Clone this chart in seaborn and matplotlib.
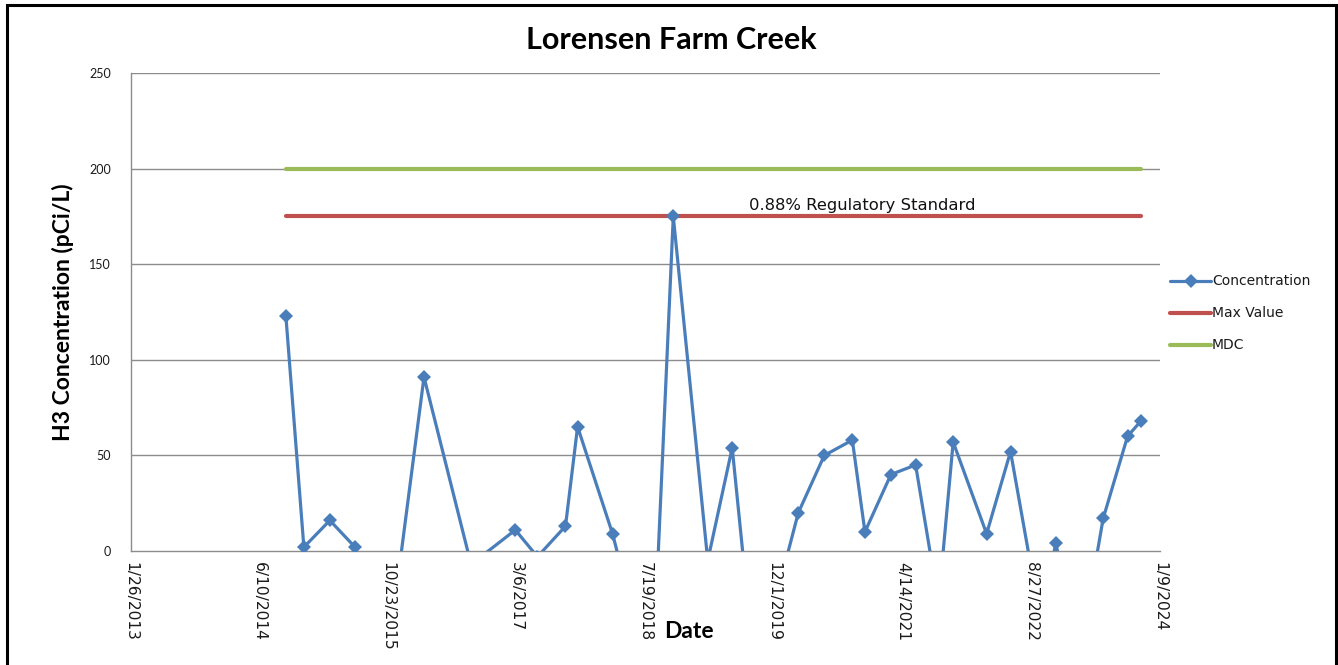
import matplotlib
matplotlib.use("Agg")
import matplotlib.pyplot as plt
import matplotlib.patches as mpatches
import pandas as pd
import seaborn as sns

# Sample dates and measured H3 concentrations (pCi/L)
sample_dates = ["2014-09-20", "2014-11-29", "2015-03-10", "2015-06-16", "2015-10-09",
                "2016-03-10", "2016-09-09", "2017-02-28", "2017-05-25", "2017-09-11",
                "2017-10-28", "2018-03-13", "2018-08-14", "2018-11-04", "2019-03-18",
                "2019-06-21", "2019-09-19", "2020-03-04", "2020-06-13", "2020-09-30",
                "2020-11-18", "2021-02-27", "2021-06-03", "2021-08-31", "2021-10-27",
                "2022-03-06", "2022-06-07", "2022-09-30", "2022-11-30", "2023-03-03",
                "2023-06-02", "2023-09-05", "2023-10-27"]
concentration = [123, 2, 16, 2, -68, 91, -7, 11, -3, 13,
                 65, 9, -72, 175, -5, 54, -66, 20, 50, 58,
                 10, 40, 45, -27, 57, 9, 52, -35, 4, -54,
                 17, 60, 68]

max_value = 175
mdc = 200

tick_dates = ["2013-01-26", "2014-06-10", "2015-10-23", "2017-03-06", "2018-07-19",
              "2019-12-01", "2021-04-14", "2022-08-27", "2024-01-09"]
tick_labels = ["1/26/2013", "6/10/2014", "10/23/2015", "3/6/2017", "7/19/2018",
               "12/1/2019", "4/14/2021", "8/27/2022", "1/9/2024"]
y_ticks = [0, 50, 100, 150, 200, 250]

sns.set_style("white")
plt.rcParams["font.family"] = ["Lato", "DejaVu Sans"]

conc_df = pd.DataFrame({"Date": pd.to_datetime(sample_dates), "Value": concentration})
span = pd.to_datetime([sample_dates[0], sample_dates[-1]])
max_df = pd.DataFrame({"Date": span, "Value": [max_value, max_value]})
mdc_df = pd.DataFrame({"Date": span, "Value": [mdc, mdc]})

fig = plt.figure(figsize=(13.38, 6.65), dpi=100)
ax = fig.add_axes([131 / 1338, 1 - 551 / 665, (1160 - 131) / 1338, (551 - 73) / 665])

grid_col = "#8c8c8c"
for y in y_ticks[1:]:
    ax.axhline(y, color=grid_col, lw=1.0, zorder=0)

sns.lineplot(data=conc_df, x="Date", y="Value", ax=ax, color="#4a7ebb", lw=2.3,
             marker="D", markersize=7, markeredgewidth=0, label="Concentration",
             sort=False, zorder=3)
sns.lineplot(data=max_df, x="Date", y="Value", ax=ax, color="#c0504d", lw=3.0,
             label="Max Value", zorder=2)
sns.lineplot(data=mdc_df, x="Date", y="Value", ax=ax, color="#9bbb59", lw=3.0,
             label="MDC", zorder=2)

ax.set_xlim(pd.Timestamp(tick_dates[0]), pd.Timestamp(tick_dates[-1]))
ax.set_ylim(0, 250)
ax.set_xticks(pd.to_datetime(tick_dates))
ax.set_xticklabels(tick_labels, rotation=-90, color="#1a1a1a",
                   fontdict={"family": ["DejaVu Sans"], "size": 11.2})
ax.set_yticks(y_ticks)
ax.set_yticklabels([str(v) for v in y_ticks], color="#1a1a1a",
                   fontdict={"family": ["Lato"], "size": 9})
ax.tick_params(axis="both", direction="out", length=5, width=1, color=grid_col)
ax.tick_params(axis="x", pad=3)
ax.tick_params(axis="y", pad=9.5)
ax.set_xlabel("")
ax.set_ylabel("")
for side in ["top", "right"]:
    ax.spines[side].set_visible(False)
for side in ["left", "bottom"]:
    ax.spines[side].set_color(grid_col)
    ax.spines[side].set_linewidth(1.0)

ax.text(pd.Timestamp("2020-11-07"), 180.5, "0.88% Regulatory Standard",
        ha="center", va="center", fontsize=11.8, family=["DejaVu Sans"], color="#111111")

leg = ax.legend(loc="center left", bbox_to_anchor=(1.0, 0.497), frameon=False,
                prop={"family": ["DejaVu Sans"], "size": 10},
                handlelength=3.0, handletextpad=0.05, labelspacing=1.3,
                borderaxespad=0.3)
for t in leg.get_texts():
    t.set_color("#1a1a1a")

fig.text(0.502, 0.94, "Lorensen Farm Creek", ha="center", va="center",
         fontsize=22, fontweight="bold", color="black")
fig.text(0.047, 0.531, "H3 Concentration (pCi/L)", ha="center", va="center",
         rotation=90, fontsize=16.5, fontweight="bold", color="black")
fig.text(0.515, 0.05, "Date", ha="center", va="center", fontsize=16.5,
         fontweight="bold", color="black")

border = mpatches.Rectangle((7 / 1338, -0.05), (1336 - 7) / 1338, 1.05 - 5 / 665,
                            transform=fig.transFigure, fill=False, lw=2.2,
                            edgecolor="black", clip_on=False)
fig.patches.append(border)

fig.savefig("out.png", dpi=100)
